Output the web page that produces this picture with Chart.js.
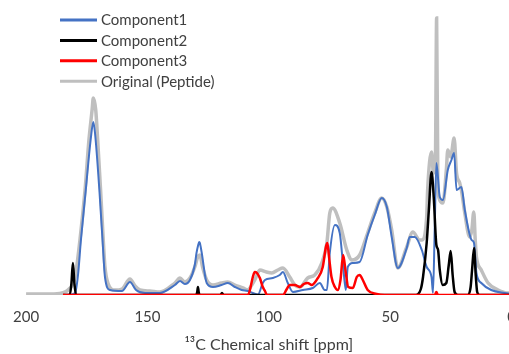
<!DOCTYPE html>
<html>
<head>
<meta charset="utf-8">
<script src="https://cdn.jsdelivr.net/npm/chart.js@4/dist/chart.umd.min.js"></script>
<style>
  html, body { margin: 0; padding: 0; background: #ffffff; overflow: hidden; }
  #wrap { width: 509px; height: 354px; overflow: hidden; }
  canvas { display: block; }
</style>
</head>
<body>
<div id="wrap"><canvas id="nmr" width="529" height="354"></canvas></div>
<script>
// 13C CP-MAS spectrum of the peptide and its three fitted components.
// Chemical shift (ppm) and intensity (arbitrary units) for each trace.

const seriesNames = ['Component1', 'Component2', 'Component3', 'Original (Peptide)'];
const shiftTicks = [200, 150, 100, 50, 0];

const originalPpm = [200, 190, 185.2, 182.7, 179.8, 177.8, 175.7, 174.1, 172.8, 172.3, 171.3, 170.5, 169.3, 168.2, 167.5, 166.3, 163.4, 160.5, 157.2, 155.1, 153.1, 149.0, 144.9, 138.7, 136.6, 134.6, 132.5, 130.5, 129.3, 128.4, 127.3, 125.6, 123.0, 119.5, 116.9, 114.0, 110.7, 108.6, 107.8, 105.8, 103.7, 101.0, 98.8, 96.3, 94.2, 91.4, 89.3, 87.2, 84.0, 81.1, 78.2, 76.1, 74.9, 73.7, 70.8, 67.9, 65.8, 62.6, 59.3, 56.4, 53.5, 51.4, 49.4, 46.9, 43.2, 40.7, 37.9, 37.0, 35.0, 34.6, 33.0, 32.2, 31.4, 30.9, 30.4, 30.0, 28.3, 26.9, 26.3, 25.1, 23.7, 22.7, 21.4, 20.7, 19.3, 17.3, 16.4, 15.6, 15.0, 14.5, 12.5, 9.7, 5.6, 1.5, 0];
const originalInt = [1, 1, 2, 5, 18, 55, 105, 155, 185, 197, 185, 155, 105, 55, 28, 12, 5, 6, 16, 9, 5, 4, 3, 12, 17, 13, 17, 28, 38, 40, 28, 15, 10, 12, 13, 10, 7, 5, 7, 15, 25, 23, 22, 25, 27, 18, 10, 8, 17, 20, 32, 52, 82, 87, 72, 45, 35, 40, 62, 82, 97, 88, 65, 27, 48, 63, 55, 55, 78, 105, 143, 122, 135, 277, 115, 98, 92, 125, 145, 138, 157, 122, 112, 105, 82, 58, 65, 83, 55, 38, 25, 12, 5, 2, 2];

const comp1Ppm = [184.8, 181.5, 179.8, 178.6, 177.4, 175.4, 173.4, 172.3, 171.6, 169.8, 168.5, 167.5, 165.4, 160.5, 157.2, 154.7, 151.0, 144.9, 138.7, 136.6, 134.6, 132.5, 130.5, 129.8, 129.1, 128.7, 128.4, 127.7, 125.6, 123.0, 119.5, 116.9, 114.0, 111.2, 108.6, 106.6, 104.5, 102.5, 101.6, 98.4, 95.5, 94.2, 92.2, 90.1, 86.0, 81.9, 79.0, 77.0, 76.1, 74.9, 72.8, 70.8, 69.5, 68.3, 67.5, 65.4, 62.6, 59.3, 56.4, 53.5, 51.4, 49.4, 46.9, 43.2, 42.0, 39.9, 37.0, 35.0, 33.0, 32.4, 31.7, 31.0, 29.6, 28.3, 26.3, 24.8, 23.7, 22.7, 20.7, 19.3, 16.5, 15.5, 14.5, 12.5, 8.4, 2.9, 0];
const comp1Int = [0, 0.5, 2, 20, 55, 105, 155, 173, 162, 105, 55, 18, 5, 4, 13, 5, 2, 2, 10, 14, 11, 15, 30, 42, 50, 53, 52, 43, 12, 8, 10, 12, 8, 5, 4, 2, 0.5, 12, 15, 17, 20, 23, 12, 3, 5, 7, 12, 5, 5, 42, 70, 62, 32, 5, 28, 32, 33, 60, 80, 97, 88, 58, 27, 47, 58, 58, 45, 28, 18, 2, 65, 132, 98, 95, 125, 135, 142, 105, 108, 85, 55, 52, 22, 12, 5, 2, 1];

const comp2Ppm = [184.8, 182.0, 181.3, 180.7, 180.1, 179.4, 130.0, 129.5, 129.2, 128.9, 128.5, 120.0, 119.3, 118.6, 39.5, 37.4, 36.5, 35.0, 34.1, 33.0, 32.1, 31.0, 30.3, 29.6, 28.4, 26.9, 25.9, 25.1, 24.3, 23.5, 22.2, 18.1, 16.9, 16.3, 15.5, 14.8, 14.2, 13.2, 0];
const comp2Int = [0, 0, 12, 32, 12, 0, 0, 3, 8, 3, 0, 0, 2, 0, 0, 6, 18, 52, 85, 123, 98, 50, 45, 25, 10, 12, 30, 44, 20, 3, 0, 0, 8, 25, 47, 20, 3, 0, 0];

const comp3Ppm = [184.8, 108.6, 107.8, 106.6, 105.8, 104.9, 103.7, 102.5, 101.6, 100.8, 94.2, 92.6, 91.4, 89.3, 87.2, 85.6, 84.0, 82.3, 79.8, 77.8, 76.5, 75.9, 75.3, 74.2, 72.8, 71.6, 70.5, 69.4, 68.3, 67.3, 65.4, 63.8, 62.6, 61.3, 59.3, 55.6, 52.3, 31.6, 31.0, 30.4, 0];
const comp3Int = [0, 0, 5, 18, 23, 22, 17, 8, 4, 0, 0, 6, 10, 10, 8, 11, 12, 10, 17, 28, 48, 52, 40, 18, 8, 5, 15, 40, 22, 8, 7, 18, 20, 15, 5, 1, 0, 0, 3, 0, 0];

const seriesColors = ['#4472C4', '#000000', '#FF0000', '#BFBFBF'];
const seriesWidths = [2, 2.5, 2.5, 3.5];
const drawOrder = [2, 1, 0, 3]; // red on top, grey at the back

function toPoints(ppm, intensity) {
  return ppm.map((x, i) => ({ x: x, y: intensity[i] }));
}

const traces = [
  toPoints(comp1Ppm, comp1Int),
  toPoints(comp2Ppm, comp2Int),
  toPoints(comp3Ppm, comp3Int),
  toPoints(originalPpm, originalInt)
];

const textColor = '#404040';
const fontFamily = 'Lato, "Open Sans", sans-serif';

// Legend drawn as a vertical list in the upper left of the plot area.
const legendList = {
  id: 'legendList',
  afterDraw(chart) {
    const ctx = chart.ctx;
    const x0 = 60, x1 = 97, textX = 101, y0 = 20, step = 20.4;
    ctx.save();
    ctx.font = '15px ' + fontFamily;
    ctx.textBaseline = 'middle';
    ctx.textAlign = 'left';
    chart.data.datasets.forEach((ds, i) => {
      const y = y0 + i * step;
      ctx.strokeStyle = ds.borderColor;
      ctx.lineWidth = 3;
      ctx.lineCap = 'butt';
      ctx.beginPath();
      ctx.moveTo(x0, y);
      ctx.lineTo(x1, y);
      ctx.stroke();
      ctx.fillStyle = textColor;
      ctx.fillText(ds.label, textX, y + 0.5);
    });
    ctx.restore();
  }
};

new Chart(document.getElementById('nmr'), {
  type: 'line',
  data: {
    datasets: seriesNames.map((name, i) => ({
      label: name,
      data: traces[i],
      borderColor: seriesColors[i],
      backgroundColor: seriesColors[i],
      borderWidth: seriesWidths[i],
      pointRadius: 0,
      fill: false,
      cubicInterpolationMode: 'monotone',
      order: drawOrder[i]
    }))
  },
  options: {
    responsive: false,
    animation: false,
    layout: { padding: { left: 26, right: 0, top: 10, bottom: 0 } },
    plugins: { legend: { display: false }, tooltip: { enabled: false } },
    scales: {
      x: {
        type: 'linear',
        reverse: true,
        min: 0,
        max: 200,
        grid: { display: false, drawTicks: false },
        border: { display: false },
        afterBuildTicks: (scale) => { scale.ticks = shiftTicks.map(v => ({ value: v })); },
        afterFit: (scale) => { scale.height = 59; },
        ticks: {
          padding: 13,
          color: textColor,
          font: { family: fontFamily, size: 15 },
          maxRotation: 0,
          autoSkip: false,
          callback: (v) => String(v)
        },
        title: {
          display: true,
          text: '¹³C Chemical shift [ppm]',
          color: textColor,
          font: { family: fontFamily, size: 16 },
          padding: { top: 0, bottom: 0 }
        }
      },
      y: { display: false, min: 0, max: 285 }
    }
  },
  plugins: [legendList]
});
</script>
</body>
</html>
